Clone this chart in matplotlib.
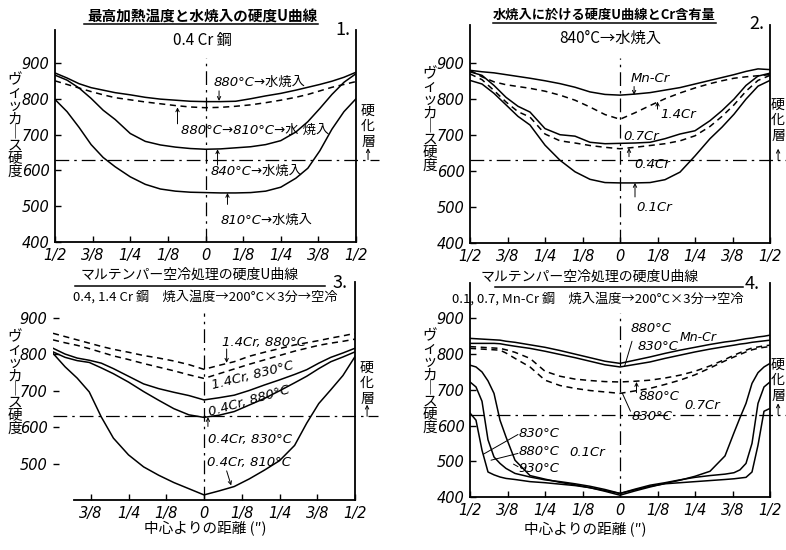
import matplotlib.pyplot as plt
from matplotlib.lines import Line2D

plt.rcParams['font.family'] = ['DejaVu Sans', 'Noto Sans CJK JP']
JP = ['Noto Sans CJK JP', 'DejaVu Sans']

W, H = 786, 550

# distance from the centre (inch), left half negative
X = [-0.5, -0.46, -0.42, -0.38, -0.34, -0.30, -0.25, -0.20, -0.15, -0.10, -0.05, 0,
     0.05, 0.10, 0.15, 0.20, 0.25, 0.30, 0.34, 0.38, 0.42, 0.46, 0.5]
X4 = [-0.5, -0.48, -0.46, -0.44, -0.42, -0.40, -0.38, -0.35, -0.30, -0.25, -0.20, -0.15,
      -0.10, -0.05, 0, 0.05, 0.10, 0.15, 0.20, 0.25, 0.30, 0.35, 0.38, 0.40, 0.42, 0.44,
      0.46, 0.48, 0.5]

x_ticks = [-0.5, -0.375, -0.25, -0.125, 0, 0.125, 0.25, 0.375, 0.5]
x_labels = ['1/2', '3/8', '1/4', '1/8', '0', '1/8', '1/4', '3/8', '1/2']
y_ticks = [400, 500, 600, 700, 800, 900]
hardened = 630  # 硬化層 limit

# panel 1: 0.4Cr steel, water quench from various temperatures
p1_880 = [872, 858, 842, 831, 824, 817, 811, 804, 799, 796, 793, 792,
          792, 793, 800, 808, 815, 824, 832, 840, 849, 860, 874]
p1_880_810 = [850, 840, 830, 820, 811, 803, 797, 791, 786, 781, 777, 775,
              776, 779, 783, 789, 796, 804, 812, 822, 832, 840, 848]
p1_840 = [866, 852, 830, 801, 768, 742, 703, 681, 671, 665, 661, 659,
          660, 663, 666, 672, 683, 707, 736, 773, 812, 846, 870]
p1_810 = [798, 764, 720, 672, 636, 610, 582, 561, 548, 542, 539, 538,
          537, 537, 538, 542, 553, 578, 606, 655, 715, 764, 800]

# panel 2: 840°C water quench, Cr content
p2_mncr = [880, 876, 873, 868, 863, 858, 851, 843, 833, 820, 813, 811,
           814, 818, 825, 832, 842, 852, 860, 868, 877, 884, 882]
p2_14cr = [880, 862, 848, 840, 835, 830, 822, 811, 797, 778, 757, 744,
           762, 782, 801, 817, 831, 843, 851, 858, 862, 865, 868]
p2_07cr = [876, 866, 838, 805, 780, 764, 718, 701, 697, 680, 676, 677,
           678, 680, 690, 703, 712, 740, 768, 800, 838, 864, 872]
p2_04cr = [870, 854, 824, 792, 765, 750, 703, 684, 678, 671, 666, 662,
           666, 671, 676, 684, 698, 724, 752, 784, 822, 852, 866]
p2_01cr = [852, 842, 816, 784, 752, 728, 672, 630, 598, 577, 568, 567,
           567, 568, 576, 597, 642, 690, 722, 758, 800, 836, 852]

# panel 3: martemper, 0.4 / 1.4Cr
p3_14_880 = [858, 849, 840, 831, 822, 814, 806, 797, 790, 782, 772, 759,
             770, 780, 795, 806, 816, 826, 832, 838, 845, 851, 858]
p3_14_830 = [840, 832, 825, 816, 806, 796, 786, 775, 765, 755, 744, 734,
             747, 760, 773, 785, 797, 809, 817, 825, 831, 836, 842]
p3_04_880 = [817, 801, 790, 784, 776, 761, 740, 719, 706, 696, 687, 675,
             681, 688, 701, 716, 730, 745, 758, 776, 792, 804, 817]
p3_04_830 = [807, 792, 783, 778, 763, 747, 724, 698, 674, 651, 634, 627,
             633, 643, 661, 679, 700, 722, 740, 761, 780, 793, 807]
p3_04_810 = [803, 766, 735, 697, 628, 570, 524, 491, 468, 448, 431, 414,
             425, 437, 458, 482, 508, 550, 611, 665, 703, 742, 794]

# panel 4: martemper, 0.1 / 0.7 / Mn-Cr
p4_mncr_880 = [844, 843, 842, 841, 840, 839, 836, 833, 826, 819, 810, 800, 790, 780, 774,
               783, 792, 802, 811, 819, 827, 834, 837, 840, 843, 845, 848, 850, 853]
p4_mncr_830 = [830, 830, 830, 830, 830, 829, 826, 822, 816, 808, 799, 790, 780, 770, 764,
               771, 778, 788, 797, 806, 814, 821, 825, 828, 830, 833, 835, 837, 839]
p4_07_880 = [821, 820, 819, 818, 817, 816, 812, 805, 788, 752, 738, 730, 726, 723, 722,
             724, 727, 733, 741, 752, 767, 785, 797, 804, 811, 817, 820, 823, 825]
p4_07_830 = [816, 815, 814, 813, 812, 811, 803, 788, 764, 727, 712, 704, 698, 694, 690,
             697, 704, 715, 727, 742, 761, 781, 792, 799, 806, 812, 816, 819, 821]
p4_01_930 = [769, 764, 750, 725, 690, 615, 568, 503, 460, 450, 441, 434, 426, 416, 405,
             417, 428, 438, 447, 458, 472, 515, 580, 622, 662, 718, 748, 764, 774]
p4_01_880 = [722, 708, 668, 560, 512, 494, 480, 466, 456, 448, 443, 437, 430, 421, 410,
             422, 433, 440, 448, 455, 460, 464, 468, 476, 494, 550, 662, 708, 722]
p4_01_830 = [635, 615, 531, 470, 462, 456, 452, 449, 443, 440, 436, 432, 426, 418, 410,
             420, 430, 437, 440, 443, 446, 449, 451, 453, 455, 470, 545, 640, 648]

SOLID = '-'
DASH = (0, (4, 3))
DASHDOT = (0, (11, 4, 2, 4))

fig = plt.figure(figsize=(W / 100, H / 100), dpi=100)


def px(x, y):
    return x / W, 1 - y / H


def ftext(x, y, s, **kw):
    kw.setdefault('family', JP)
    fig.text(*px(x, y), s, **kw)


def underline(x0, x1, y):
    fig.add_artist(Line2D([x0 / W, x1 / W], [1 - y / H] * 2,
                          transform=fig.transFigure, color='k', lw=1.1))


def make_axes(left, top, right, bottom, ytop, xt=x_ticks, xl=x_labels, yt=y_ticks):
    ax = fig.add_axes([left / W, 1 - bottom / H, (right - left) / W, (bottom - top) / H])
    ax.set_xlim(-0.5, 0.5)
    ax.set_ylim(400, ytop)
    ax.set_facecolor('none')
    ax.spines['top'].set_visible(False)
    for s in ['left', 'right', 'bottom']:
        ax.spines[s].set_linewidth(1.3)
    ax.set_xticks(xt, xl)
    ax.set_yticks(yt)
    ax.tick_params(direction='in', length=4, width=1, labelsize=10.5, pad=4)
    for lab in ax.get_xticklabels() + ax.get_yticklabels():
        lab.set_fontstyle('italic')
    ax.axvline(0, ymax=(915 - 400) / (ytop - 400), ls=DASHDOT, lw=0.9, color='k')
    ax.plot([-0.5, 0.575], [hardened, hardened], ls=DASHDOT, lw=0.9, color='k',
            clip_on=False)
    return ax


def arrow(ax, xy, xytext):
    ax.annotate('', xy=xy, xytext=xytext, annotation_clip=False,
                arrowprops=dict(arrowstyle='->', lw=0.7, color='k',
                                shrinkA=0, shrinkB=0, mutation_scale=6))


def leader(ax, xy, xytext):
    ax.annotate('', xy=xy, xytext=xytext, annotation_clip=False,
                arrowprops=dict(arrowstyle='-', lw=0.7, color='k',
                                shrinkA=0, shrinkB=0))


def hardened_mark(ax, x, ycenter_px, xpx):
    ftext(xpx, ycenter_px, '\n'.join('硬化層'), fontsize=10, ha='center', va='center',
          linespacing=1.15)
    arrow(ax, (x, 662), (x, hardened))


def vlabel(xpx, ycpx):
    ftext(xpx, ycpx, '\n'.join('ヴィッカ｜ス硬度'), fontsize=10.5, ha='center', va='center',
          linespacing=0.9)


LW = 1.1
lab_kw = dict(fontsize=9.5, style='italic', family=['DejaVu Sans', 'Noto Sans CJK JP'])

# ---------------- panel 1 ----------------
ax1 = make_axes(55, 30, 356, 242, 992)
ax1.plot(X, p1_880, color='k', lw=LW, ls=SOLID)
ax1.plot(X, p1_880_810, color='k', lw=LW, ls=DASH)
ax1.plot(X, p1_840, color='k', lw=LW, ls=SOLID)
ax1.plot(X, p1_810, color='k', lw=LW, ls=SOLID)
ax1.text(0.027, 847, '880°C→水焼入', va='center', **lab_kw)
arrow(ax1, (0.045, 794), (0.045, 822))
ax1.text(-0.083, 713, '880°C→810°C→水 焼入', va='center', **lab_kw)
arrow(ax1, (-0.093, 776), (-0.093, 730))
ax1.text(0.017, 596, '840°C→水焼入', va='center', **lab_kw)
arrow(ax1, (0.04, 659), (0.04, 615))
ax1.text(0.05, 461, '810°C→水焼入', va='center', **lab_kw)
arrow(ax1, (0.073, 537), (0.073, 505))
ftext(202, 16, '最高加熱温度と水焼入の硬度U曲線', fontsize=10.5, weight='bold',
      ha='center', va='center')
underline(84, 318, 24)
ftext(202, 40, '0.4 Cr 鋼', fontsize=11, ha='center', va='center',
      style='italic')
ftext(343, 30, '1.', fontsize=13, style='italic', ha='center', va='center')
vlabel(15, 126)
hardened_mark(ax1, 0.54, 126, 368)

# ---------------- panel 2 ----------------
ax2 = make_axes(470, 25, 770, 243, 1006)
ax2.plot(X, p2_mncr, color='k', lw=LW, ls=SOLID)
ax2.plot(X, p2_14cr, color='k', lw=LW, ls=DASH)
ax2.plot(X, p2_07cr, color='k', lw=LW, ls=SOLID)
ax2.plot(X, p2_04cr, color='k', lw=LW, ls=DASH)
ax2.plot(X, p2_01cr, color='k', lw=LW, ls=SOLID)
ax2.text(0.037, 858, 'Mn-Cr', va='center', **lab_kw)
arrow(ax2, (0.047, 812), (0.047, 835))
ax2.text(0.135, 756, '1.4Cr', va='center', **lab_kw)
arrow(ax2, (0.125, 793), (0.125, 772))
ax2.text(0.012, 697, '0.7Cr', va='center', **lab_kw)
ax2.text(0.047, 617, '0.4Cr', va='center', **lab_kw)
arrow(ax2, (0.03, 664), (0.03, 640))
ax2.text(0.055, 500, '0.1Cr', va='center', **lab_kw)
arrow(ax2, (0.05, 567), (0.05, 528))
ftext(604, 15, '水焼入に於ける硬度U曲線とCr含有量', fontsize=9.5, weight='bold',
      ha='center', va='center')
underline(493, 716, 23)
ftext(610, 38, '840°C→水焼入', fontsize=11, ha='center', va='center')
ftext(757, 24, '2.', fontsize=13, style='italic', ha='center', va='center')
vlabel(430, 120)
hardened_mark(ax2, 0.527, 120, 778)

# ---------------- panel 3 ----------------
ax3 = make_axes(53, 282, 355, 500, 999, xt=x_ticks[1:], xl=x_labels[1:], yt=y_ticks[1:])
ax3.spines['left'].set_visible(False)
ax3.spines['bottom'].set_bounds(-0.43, 0.5)
ax3.plot(X, p3_14_880, color='k', lw=LW, ls=DASH)
ax3.plot(X, p3_14_830, color='k', lw=LW, ls=DASH)
ax3.plot(X, p3_04_880, color='k', lw=LW, ls=SOLID)
ax3.plot(X, p3_04_830, color='k', lw=LW, ls=SOLID)
ax3.plot(X, p3_04_810, color='k', lw=LW, ls=SOLID)
ax3.text(0.06, 834, '1.4Cr, 880°C', va='center', **lab_kw)
arrow(ax3, (0.075, 777), (0.075, 815))
ax3.text(0.02, 742, '1.4Cr, 830°C', va='center', rotation=14, **lab_kw)
ax3.text(0.01, 672, '0.4Cr, 880°C', va='center', rotation=16, **lab_kw)
ax3.text(0.013, 565, '0.4Cr, 830°C', va='center', **lab_kw)
arrow(ax3, (0.013, 628), (0.013, 602))
ax3.text(0.01, 502, '0.4Cr, 810°C', va='center', **lab_kw)
arrow(ax3, (0.09, 440), (0.075, 480))
ftext(190, 275, 'マルテンパー空冷処理の硬度U曲線', fontsize=10, ha='center', va='center')
underline(75, 325, 286)
ftext(205, 297, '0.4, 1.4 Cr 鋼　焼入温度→200°C×3分→空冷', fontsize=9.5,
      ha='center', va='center')
ftext(340, 283, '3.', fontsize=13, style='italic', ha='center', va='center')
ftext(205, 528, '中心よりの距離 (″)', fontsize=10.5, ha='center', va='center')
vlabel(15, 383)
hardened_mark(ax3, 0.54, 383, 367)

# ---------------- panel 4 ----------------
ax4 = make_axes(470, 283, 770, 497, 999)
ax4.plot(X4, p4_mncr_880, color='k', lw=LW, ls=SOLID)
ax4.plot(X4, p4_mncr_830, color='k', lw=LW, ls=SOLID)
ax4.plot(X4, p4_07_880, color='k', lw=LW, ls=DASH)
ax4.plot(X4, p4_07_830, color='k', lw=LW, ls=DASH)
ax4.plot(X4, p4_01_930, color='k', lw=LW, ls=SOLID)
ax4.plot(X4, p4_01_880, color='k', lw=LW, ls=SOLID)
ax4.plot(X4, p4_01_830, color='k', lw=LW, ls=SOLID)
ax4.text(0.035, 873, '880°C', va='center', **lab_kw)
ax4.text(0.06, 820, '830°C', va='center', **lab_kw)
ax4.text(0.2, 846, 'Mn-Cr', va='center', fontsize=9, style='italic')
leader(ax4, (0.015, 765), (0.04, 836))
ax4.text(0.063, 680, '880°C', va='center', **lab_kw)
arrow(ax4, (0.055, 722), (0.055, 692))
ax4.text(0.215, 655, '0.7Cr', va='center', **lab_kw)
ax4.text(0.037, 624, '830°C', va='center', **lab_kw)
leader(ax4, (0.008, 690), (0.035, 640))
ax4.text(-0.337, 579, '830°C', va='center', **lab_kw)
leader(ax4, (-0.455, 520), (-0.34, 575))
ax4.text(-0.337, 526, '880°C', va='center', **lab_kw)
leader(ax4, (-0.43, 503), (-0.34, 522))
ax4.text(-0.337, 481, '930°C', va='center', **lab_kw)
leader(ax4, (-0.355, 492), (-0.34, 485))
ax4.text(-0.17, 524, '0.1Cr', va='center', **lab_kw)
ftext(590, 277, 'マルテンパー空冷処理の硬度U曲線', fontsize=10, ha='center', va='center')
underline(495, 743, 287)
ftext(598, 299, '0.1, 0.7, Mn-Cr 鋼　焼入温度→200°C×3分→空冷', fontsize=9.5,
      ha='center', va='center')
ftext(752, 284, '4.', fontsize=13, style='italic', ha='center', va='center')
ftext(585, 529, '中心よりの距離 (″)', fontsize=10.5, ha='center', va='center')
vlabel(430, 382)
hardened_mark(ax4, 0.527, 380, 778)

fig.savefig('out.png', dpi=100)
